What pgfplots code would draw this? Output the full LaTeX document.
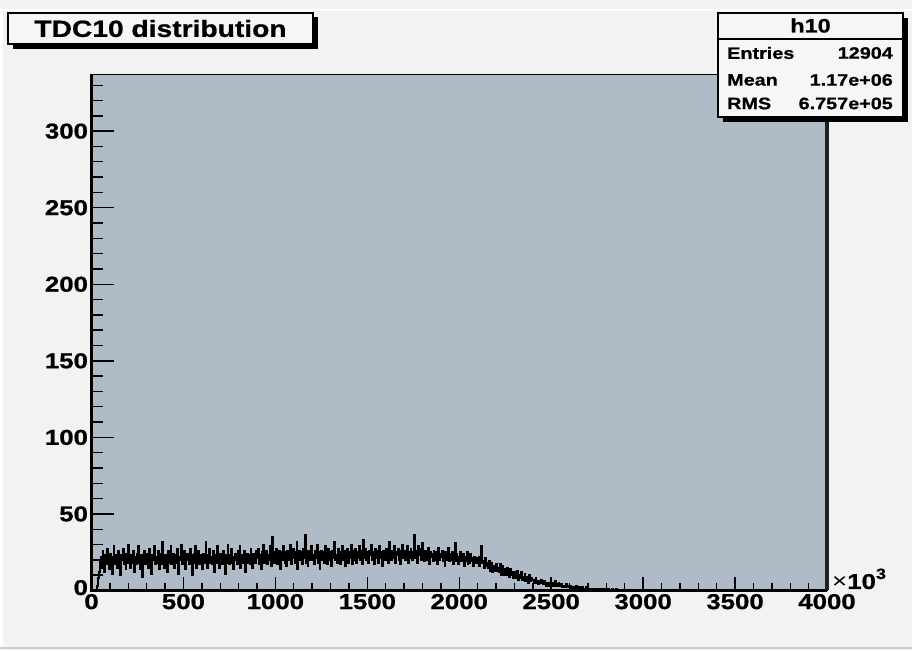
\documentclass[border=0pt]{standalone}
\usepackage{fontspec}
\setmainfont{Liberation Sans}[FakeStretch=1.2, BoldFeatures={FakeBold=0.8}]
\usepackage{pgfplots}
\usepackage{pgfplotstable}
\pgfplotsset{compat=1.18}

\definecolor{canvas}{RGB}{242,242,242}
\definecolor{boxfill}{RGB}{246,246,246}
\definecolor{framefill}{RGB}{175,188,200}

% TDC10 counts per bin (bin width 5 x 10^3, starting at 0)
\pgfplotstableread[row sep=\\]{
counts\\
0\\ 0\\ 0\\ 0\\ 0\\ 0\\ 3\\ 8\\ 12\\ 19\\
22\\ 15\\ 26\\ 18\\ 12\\ 23\\ 17\\ 27\\ 20\\ 14\\
24\\ 18\\ 11\\ 22\\ 29\\ 17\\ 20\\ 23\\ 15\\ 26\\
18\\ 10\\ 23\\ 20\\ 27\\ 17\\ 22\\ 14\\ 24\\ 18\\
30\\ 20\\ 15\\ 23\\ 18\\ 26\\ 12\\ 22\\ 17\\ 24\\
20\\ 29\\ 18\\ 14\\ 23\\ 9\\ 22\\ 26\\ 17\\ 20\\
24\\ 15\\ 22\\ 27\\ 18\\ 11\\ 23\\ 20\\ 29\\ 17\\
22\\ 18\\ 26\\ 14\\ 20\\ 24\\ 17\\ 32\\ 22\\ 15\\
23\\ 20\\ 12\\ 26\\ 18\\ 22\\ 29\\ 17\\ 20\\ 24\\
15\\ 23\\ 18\\ 27\\ 11\\ 22\\ 20\\ 30\\ 17\\ 23\\
18\\ 26\\ 14\\ 22\\ 24\\ 20\\ 17\\ 27\\ 23\\ 10\\
20\\ 24\\ 18\\ 29\\ 15\\ 22\\ 26\\ 17\\ 23\\ 20\\
14\\ 24\\ 22\\ 18\\ 32\\ 20\\ 15\\ 23\\ 27\\ 18\\
22\\ 17\\ 26\\ 12\\ 20\\ 23\\ 18\\ 29\\ 22\\ 15\\
24\\ 20\\ 17\\ 26\\ 22\\ 11\\ 23\\ 18\\ 30\\ 20\\
17\\ 23\\ 27\\ 18\\ 14\\ 22\\ 24\\ 20\\ 17\\ 26\\
22\\ 29\\ 15\\ 20\\ 23\\ 18\\ 26\\ 12\\ 22\\ 24\\
18\\ 23\\ 17\\ 27\\ 20\\ 15\\ 24\\ 22\\ 18\\ 26\\
21\\ 27\\ 17\\ 23\\ 14\\ 25\\ 20\\ 30\\ 18\\ 21\\
26\\ 17\\ 23\\ 20\\ 29\\ 16\\ 35\\ 21\\ 25\\ 18\\
23\\ 27\\ 17\\ 21\\ 26\\ 14\\ 25\\ 20\\ 29\\ 21\\
18\\ 25\\ 16\\ 26\\ 23\\ 20\\ 30\\ 17\\ 21\\ 27\\
25\\ 18\\ 23\\ 32\\ 14\\ 21\\ 26\\ 20\\ 25\\ 17\\
27\\ 21\\ 36\\ 18\\ 23\\ 16\\ 26\\ 20\\ 25\\ 29\\
20\\ 23\\ 17\\ 26\\ 21\\ 30\\ 18\\ 25\\ 14\\ 23\\
26\\ 20\\ 25\\ 18\\ 29\\ 21\\ 17\\ 27\\ 23\\ 20\\
25\\ 16\\ 26\\ 21\\ 32\\ 20\\ 23\\ 18\\ 27\\ 21\\
17\\ 25\\ 21\\ 29\\ 20\\ 26\\ 16\\ 23\\ 27\\ 18\\
25\\ 21\\ 30\\ 17\\ 26\\ 23\\ 20\\ 27\\ 18\\ 25\\
21\\ 29\\ 20\\ 26\\ 17\\ 33\\ 23\\ 21\\ 27\\ 20\\
25\\ 18\\ 26\\ 23\\ 30\\ 20\\ 25\\ 17\\ 27\\ 21\\
23\\ 26\\ 18\\ 29\\ 21\\ 25\\ 16\\ 26\\ 23\\ 20\\
27\\ 21\\ 25\\ 18\\ 32\\ 23\\ 20\\ 26\\ 21\\ 29\\
18\\ 25\\ 23\\ 27\\ 20\\ 26\\ 17\\ 25\\ 30\\ 21\\
26\\ 20\\ 23\\ 29\\ 18\\ 25\\ 21\\ 27\\ 23\\ 20\\
25\\ 36\\ 21\\ 26\\ 18\\ 29\\ 23\\ 27\\ 20\\ 25\\
31\\ 22\\ 19\\ 26\\ 24\\ 20\\ 28\\ 17\\ 25\\ 22\\
24\\ 19\\ 26\\ 20\\ 25\\ 22\\ 17\\ 28\\ 20\\ 24\\
22\\ 26\\ 19\\ 24\\ 16\\ 25\\ 20\\ 22\\ 28\\ 19\\
24\\ 20\\ 25\\ 17\\ 22\\ 31\\ 19\\ 24\\ 20\\ 17\\
22\\ 25\\ 19\\ 20\\ 24\\ 16\\ 22\\ 19\\ 25\\ 17\\
22\\ 18\\ 24\\ 19\\ 21\\ 16\\ 22\\ 19\\ 18\\ 21\\
19\\ 22\\ 16\\ 21\\ 29\\ 18\\ 19\\ 15\\ 21\\ 16\\
18\\ 15\\ 19\\ 13\\ 16\\ 18\\ 12\\ 16\\ 15\\ 13\\
17\\ 13\\ 15\\ 12\\ 17\\ 10\\ 14\\ 16\\ 10\\ 12\\
14\\ 10\\ 15\\ 12\\ 9\\ 14\\ 10\\ 12\\ 8\\ 11\\
12\\ 8\\ 10\\ 13\\ 7\\ 10\\ 8\\ 12\\ 7\\ 9\\
8\\ 11\\ 6\\ 9\\ 8\\ 5\\ 10\\ 6\\ 8\\ 7\\
7\\ 5\\ 6\\ 8\\ 5\\ 6\\ 4\\ 6\\ 5\\ 7\\
5\\ 4\\ 6\\ 5\\ 3\\ 5\\ 4\\ 5\\ 3\\ 4\\
4\\ 5\\ 3\\ 4\\ 6\\ 3\\ 4\\ 3\\ 5\\ 3\\
3\\ 4\\ 2\\ 3\\ 3\\ 2\\ 4\\ 2\\ 3\\ 2\\
2\\ 3\\ 1\\ 2\\ 2\\ 1\\ 2\\ 3\\ 1\\ 2\\
1\\ 2\\ 1\\ 1\\ 2\\ 0\\ 1\\ 1\\ 2\\ 1\\
1\\ 1\\ 0\\ 1\\ 1\\ 0\\ 1\\ 0\\ 1\\ 1\\
0\\ 1\\ 0\\ 0\\ 1\\ 0\\ 1\\ 0\\ 0\\ 1\\
0\\ 0\\ 1\\ 0\\ 0\\ 0\\ 1\\ 0\\ 0\\ 0\\
0\\ 1\\ 0\\ 0\\ 0\\ 0\\ 0\\ 0\\ 0\\ 0\\
0\\
}\tdcten

\begin{document}
\begin{tikzpicture}
\path[use as bounding box] (0,0) rectangle (912pt,650pt);
\fill[canvas] (0,0) rectangle (912pt,650pt);
\draw[white, line width=1.5pt] (0,640pt) -- (912pt,640pt);
\draw[white, line width=3pt] (1.5pt,0) -- (1.5pt,640pt);
\draw[black!20, line width=1.5pt] (0,2pt) -- (912pt,2pt);

\begin{axis}[
  at={(91.5pt,59.5pt)}, anchor=south west,
  scale only axis, width=735.5pt, height=516pt,
  xmin=0, xmax=4000, ymin=0, ymax=337,
  clip=false,
  axis background/.style={fill=framefill},
  axis line style={line width=1.6pt, black},
  tick align=inside, tick pos=left,
  xtick={0,500,1000,1500,2000,2500,3000,3500,4000},
  xticklabels={0,500,1000,1500,2000,2500,3000,3500,4000},
  minor x tick num=4,
  ytick={0,50,100,150,200,250,300},
  yticklabels={\raisebox{6pt}{0},50,100,150,200,250,300},
  ytick style={draw=none},
  minor y tick num=0,
  major tick length=13pt, minor tick length=7pt,
  xtick style={line width=1.4pt, black},
  minor x tick style={line width=1.4pt, black},
  ticklabel style={font=\fontsize{21.5}{21.5}\selectfont\bfseries},
  /pgf/number format/assume math mode=true,
]
% histogram drawn as steps
\addplot[const plot, line width=2pt, black]
  table[x expr=\coordindex*5, y index=0] {\tdcten};
\addplot[line width=2pt, black] coordinates {(2900,0) (4000,0)};

% y-axis ticks (longer than the x ones)
\pgfplotsinvokeforeach{0,50,100,150,200,250,300}{
  \draw[line width=1.4pt] (axis cs:0,#1) -- ++(22pt,0);
}
\pgfplotsinvokeforeach{10,20,30,40,60,70,80,90,110,120,130,140,160,170,180,190,210,220,230,240,260,270,280,290,310,320,330}{
  \draw[line width=1.4pt] (axis cs:0,#1) -- ++(11pt,0);
}
% frame edges
\draw[line width=2.4pt] (axis cs:0,337) -- (axis cs:0,0) -- (axis cs:4000,0);
\draw[line width=3.5pt, black!88] (axis cs:4000,0) -- (axis cs:4000,337);
\end{axis}

% axis multiplier
\node[anchor=base west, inner sep=0pt, font=\fontsize{21.5}{21.5}\selectfont\bfseries]
  at (832pt,61pt) {{\mdseries ×}10\raisebox{10pt}{\fontsize{15}{15}\selectfont 3}};

% title box
\fill[black] (12.5pt,601pt) rectangle (317.5pt,632.5pt);
\filldraw[fill=boxfill, draw=black, line width=1.5pt] (8pt,606pt) rectangle (313pt,637pt);
\node[inner sep=0pt, font=\fontsize{23.5}{23.5}\selectfont\bfseries] at (160.5pt,621.5pt) {TDC10 distribution};

% statistics box
\fill[black] (723pt,528pt) rectangle (908pt,632pt);
\filldraw[fill=boxfill, draw=black, line width=1.5pt] (718pt,533pt) rectangle (903pt,637pt);
\draw[line width=1.2pt] (718pt,611pt) -- (903pt,611pt);
\node[inner sep=0pt, font=\fontsize{19.5}{19.5}\selectfont\bfseries] at (810.5pt,624.5pt) {h10};
\begin{scope}[every node/.style={inner sep=0pt, font=\fontsize{16.5}{16.5}\selectfont\bfseries}]
  \node[anchor=west] at (727pt,597pt) {Entries};
  \node[anchor=east] at (893pt,597pt) {12904};
  \node[anchor=west] at (727pt,570pt) {Mean};
  \node[anchor=east] at (893pt,570pt) {1.17e+06};
  \node[anchor=west] at (727pt,546.5pt) {RMS};
  \node[anchor=east] at (893pt,546.5pt) {6.757e+05};
\end{scope}
\end{tikzpicture}
\end{document}
